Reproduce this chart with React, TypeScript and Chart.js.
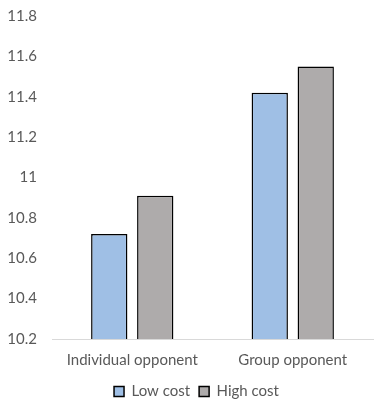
import React, { useEffect, useRef } from "react";
import { Chart, registerables } from "chart.js";

Chart.register(...registerables);

const categories = ["Individual opponent", "Group opponent"];
const lowCost = [10.72, 11.42];
const highCost = [10.91, 11.55];
const seriesNames = ["Low cost", "High cost"];

export default function App() {
  const ref = useRef<HTMLCanvasElement>(null);
  useEffect(() => {
    document.body.style.margin = "0";
    const ctx = ref.current!;
    const font = { family: "Lato, 'Open Sans', sans-serif", size: 15 };
    const shiftLegend = {
      id: "shiftLegend",
      afterLayout(chart: any) {
        if (chart.legend) {
          chart.legend.left += 20;
        }
      },
    };
    const chart = new Chart(ctx, {
      type: "bar",
      data: {
        labels: categories,
        datasets: [
          {
            label: seriesNames[0],
            data: lowCost,
            backgroundColor: "#9FBFE5",
            borderColor: "#000000",
            borderWidth: 1.5,
            categoryPercentage: 0.573,
            barPercentage: 0.79,
          },
          {
            label: seriesNames[1],
            data: highCost,
            backgroundColor: "#AEABAB",
            borderColor: "#000000",
            borderWidth: 1.5,
            categoryPercentage: 0.573,
            barPercentage: 0.79,
          },
        ],
      },
      plugins: [shiftLegend],
      options: {
        animation: false,
        responsive: false,
        maintainAspectRatio: false,
        layout: { padding: { top: 16, right: 16, left: 0, bottom: 4 } },
        plugins: {
          tooltip: { enabled: false },
          legend: {
            position: "bottom",
            labels: {
              font,
              color: "#595959",
              boxWidth: 10,
              boxHeight: 10,
              padding: 9,
            },
          },
        },
        scales: {
          x: {
            grid: { display: false, drawTicks: false },
            border: { display: true, color: "#D9D9D9", width: 1 },
            ticks: { font, color: "#595959", padding: 12 },
            afterFit: (s: any) => {
              s.height = 36;
              s.paddingLeft = 0;
              s.paddingRight = 0;
            },
          },
          y: {
            min: 10.2,
            max: 11.8,
            grid: { display: false, drawTicks: false },
            border: { display: false },
            ticks: {
              stepSize: 0.2,
              font,
              color: "#595959",
              padding: 15,
              callback: (v: any) => String(Math.round(Number(v) * 10) / 10),
            },
            afterFit: (s: any) => {
              s.width = 52;
              s.paddingTop = 0;
              s.paddingBottom = 0;
            },
          },
        },
      },
    });
    return () => chart.destroy();
  }, []);
  return (
    <div style={{ width: 389, height: 413 }}>
      <canvas ref={ref} width={389} height={413} style={{ display: "block" }} />
    </div>
  );
}
